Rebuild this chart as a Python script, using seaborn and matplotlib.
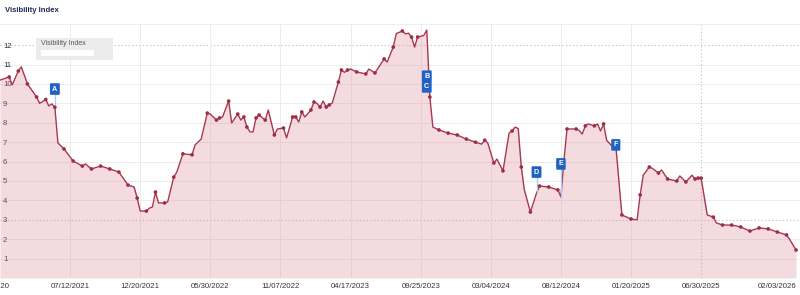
import matplotlib
matplotlib.use("Agg")
import matplotlib.pyplot as plt
import matplotlib.dates as mdates
from matplotlib.patches import Rectangle
from matplotlib.lines import Line2D
import seaborn as sns
import pandas as pd

# ---------------- data ----------------
dates = [
    "2021-02-01", "2021-02-22", "2021-03-01", "2021-03-15", "2021-03-22", "2021-04-05",
    "2021-04-26", "2021-05-03", "2021-05-17", "2021-05-24", "2021-05-31", "2021-06-07",
    "2021-06-14", "2021-06-28", "2021-07-19", "2021-08-09", "2021-08-16", "2021-08-30",
    "2021-09-20", "2021-09-27", "2021-10-11", "2021-11-01", "2021-11-22", "2021-12-06",
    "2021-12-13", "2021-12-20", "2022-01-03", "2022-01-10", "2022-01-17", "2022-01-24",
    "2022-01-31", "2022-02-14", "2022-02-21", "2022-03-07", "2022-03-14", "2022-03-28",
    "2022-04-18", "2022-04-25", "2022-05-09", "2022-05-23", "2022-05-30", "2022-06-13",
    "2022-06-20", "2022-06-27", "2022-07-11", "2022-07-18", "2022-08-01", "2022-08-08",
    "2022-08-15", "2022-08-22", "2022-08-29", "2022-09-05", "2022-09-12", "2022-09-19",
    "2022-10-03", "2022-10-10", "2022-10-24", "2022-10-31", "2022-11-14", "2022-11-21",
    "2022-12-05", "2022-12-12", "2022-12-19", "2022-12-26", "2023-01-02", "2023-01-16",
    "2023-01-23", "2023-01-30", "2023-02-06", "2023-02-13", "2023-02-20", "2023-02-27",
    "2023-03-06", "2023-03-20", "2023-03-27", "2023-04-03", "2023-04-10", "2023-04-17",
    "2023-05-01", "2023-05-22", "2023-05-29", "2023-06-12", "2023-07-03", "2023-07-10",
    "2023-07-24", "2023-07-31", "2023-08-14", "2023-08-21", "2023-08-28", "2023-09-04",
    "2023-09-11", "2023-09-18", "2023-10-02", "2023-10-09", "2023-10-16", "2023-10-23",
    "2023-11-06", "2023-11-27", "2023-12-11", "2023-12-18", "2024-01-08", "2024-01-29",
    "2024-02-12", "2024-02-19", "2024-02-26", "2024-03-11", "2024-03-18", "2024-04-01",
    "2024-04-15", "2024-04-22", "2024-04-29", "2024-05-06", "2024-05-13", "2024-05-20",
    "2024-06-03", "2024-06-17", "2024-06-24", "2024-07-15", "2024-08-05", "2024-08-12",
    "2024-08-19", "2024-08-26", "2024-09-16", "2024-09-23", "2024-09-30", "2024-10-07",
    "2024-10-14", "2024-10-28", "2024-11-04", "2024-11-11", "2024-11-18", "2024-11-25",
    "2024-12-09", "2024-12-16", "2024-12-23", "2024-12-30", "2025-01-20", "2025-02-03",
    "2025-02-10", "2025-02-17", "2025-03-03", "2025-03-10", "2025-03-24", "2025-03-31",
    "2025-04-14", "2025-05-05", "2025-05-12", "2025-05-26", "2025-06-09", "2025-06-16",
    "2025-06-23", "2025-06-30", "2025-07-14", "2025-07-28", "2025-08-04", "2025-08-18",
    "2025-09-08", "2025-09-29", "2025-10-20", "2025-11-10", "2025-12-01", "2025-12-22",
    "2026-01-12", "2026-01-19", "2026-02-03",
]
visibility = [
    10.2, 10.36, 9.95, 10.67, 10.88, 10.0,
    9.33, 9.0, 9.2, 8.87, 8.97, 8.8,
    6.96, 6.65, 6.03, 5.77, 5.88, 5.62,
    5.77, 5.72, 5.62, 5.46, 4.79, 4.69,
    4.12, 3.45, 3.45, 3.6, 3.66, 4.43,
    3.87, 3.87, 3.92, 5.2, 5.46, 6.4,
    6.35, 6.86, 7.16, 8.5, 8.45, 8.14,
    8.25, 8.3, 9.12, 7.99, 8.45, 8.14,
    8.3, 7.78, 7.53, 7.53, 8.25, 8.4,
    8.14, 8.66, 7.37, 7.68, 7.73, 7.22,
    8.3, 8.3, 8.04, 8.56, 8.3, 8.66,
    9.07, 9.0, 8.81, 9.12, 8.81, 8.92,
    9.02, 10.1, 10.72, 10.6, 10.72, 10.77,
    10.62, 10.52, 10.77, 10.57, 11.29, 11.13,
    11.9, 12.6, 12.73, 12.58, 12.62, 12.42,
    11.9, 12.42, 12.5, 12.78, 9.33, 7.78,
    7.63, 7.47, 7.4, 7.37, 7.16, 7.0,
    6.9, 7.1, 6.96, 5.93, 6.13, 5.52,
    7.47, 7.58, 7.78, 7.7, 5.72, 4.54,
    3.4, 4.38, 4.74, 4.69, 4.54, 4.18,
    6.08, 7.68, 7.68, 7.6, 7.42, 7.84,
    7.94, 7.84, 7.94, 7.58, 7.94, 7.1,
    6.75, 6.85, 5.05, 3.25, 3.04, 3.0,
    4.28, 5.3, 5.72, 5.65, 5.41, 5.57,
    5.1, 5.0, 5.26, 4.95, 5.3, 5.1,
    5.15, 5.15, 3.25, 3.14, 2.84, 2.73,
    2.73, 2.63, 2.42, 2.58, 2.53, 2.37,
    2.22, 2.0, 1.44,
]
has_dot = [
    0, 1, 0, 1, 0, 1,
    1, 0, 1, 0, 0, 1,
    0, 1, 1, 1, 0, 1,
    1, 0, 1, 1, 1, 0,
    1, 0, 1, 0, 0, 1,
    0, 1, 0, 1, 0, 1,
    1, 0, 0, 1, 0, 1,
    1, 0, 1, 0, 1, 0,
    1, 1, 0, 0, 1, 1,
    1, 0, 1, 0, 1, 0,
    1, 1, 0, 1, 0, 1,
    1, 0, 1, 0, 1, 1,
    0, 1, 1, 0, 1, 0,
    1, 1, 0, 1, 1, 0,
    1, 0, 1, 0, 0, 1,
    0, 1, 0, 0, 1, 0,
    1, 1, 0, 1, 1, 1,
    0, 1, 0, 1, 0, 1,
    0, 1, 0, 0, 1, 0,
    1, 0, 1, 1, 1, 0,
    0, 1, 1, 0, 0, 1,
    0, 1, 0, 0, 1, 0,
    0, 0, 0, 1, 1, 0,
    1, 0, 1, 0, 1, 0,
    1, 1, 0, 1, 0, 1,
    1, 1, 0, 1, 0, 1,
    1, 1, 1, 1, 1, 1,
    1, 0, 1,
]

tick_dates = ["2021-07-12", "2021-12-20", "2022-05-30", "2022-11-07", "2023-04-17",
              "2023-09-25", "2024-03-04", "2024-08-12", "2025-01-20", "2025-06-30",
              "2026-02-03"]
first_tick_label = "12/28/2020"
y_ticks = [1, 2, 3, 4, 5, 6, 7, 8, 9, 10, 11, 12]

event_labels = ["A", "B", "C", "D", "E", "F"]
event_dates = ["2021-06-07", "2023-10-09", "2023-10-09", "2024-06-17", "2024-08-12", "2024-12-16"]
event_levels = [9.74, 10.4, 9.85, 5.46, 5.88, 6.86]

# ---------------- style ----------------
sns.set_theme(style="white")
plt.rcParams["font.family"] = ["Liberation Sans", "DejaVu Sans"]

LINE = "#a8384f"
DOT = "#9e2e47"
FILL = "#d98a9b"
BLUE = "#1e63c4"

df = pd.DataFrame({"date": pd.to_datetime(dates), "value": visibility, "dot": has_dot})

fig = plt.figure(figsize=(8, 2.95), dpi=100)
ax = fig.add_axes([0.0, 17 / 295, 1.0, 253 / 295])

# grid
for y in y_ticks:
    if y in (3, 12):
        ax.axhline(y, color="#c4c4c4", lw=0.8, ls=(0, (1.2, 2.0)), zorder=0.5)
    else:
        ax.axhline(y, color="#ececec", lw=0.7, zorder=0.5)
for d in tick_dates[:-1]:
    if d == "2025-06-30":
        ax.axvline(pd.Timestamp(d), color="#c8c8c8", lw=0.8, ls=(0, (1.2, 2.0)), zorder=0.5)
    else:
        ax.axvline(pd.Timestamp(d), color="#ececec", lw=0.7, zorder=0.5)

ax.fill_between(df["date"], df["value"], 0, color=FILL, alpha=0.3, lw=0, zorder=1)
sns.lineplot(data=df, x="date", y="value", ax=ax, color=LINE, lw=1.0, zorder=3)
sns.scatterplot(data=df[df["dot"] == 1], x="date", y="value", ax=ax, color=DOT,
                s=7, edgecolor="none", linewidth=0, zorder=4)

# event markers
lookup = dict(zip(df["date"], df["value"]))
for lab, d, lvl in zip(event_labels, event_dates, event_levels):
    t = pd.Timestamp(d)
    base = lookup.get(t)
    if base is not None and base < lvl:
        ax.plot([t, t], [base, lvl], color="#a9c9ee", lw=0.9, zorder=3.5)
    ax.text(t, lvl, lab, ha="center", va="center", color="white", fontsize=5.2,
            fontweight="bold", zorder=6,
            bbox=dict(boxstyle="round,pad=0.32,rounding_size=0.15", fc=BLUE, ec="none"))

ax.set_xlim(pd.Timestamp("2021-02-01"), pd.Timestamp("2026-02-12"))
ax.set_ylim(0, 13.04)

ax.set_xticks(pd.to_datetime(tick_dates))
ax.xaxis.set_major_formatter(mdates.DateFormatter("%m/%d/%Y"))
ax.set_yticks(y_ticks)
ax.set_yticklabels([str(v) for v in y_ticks])
ax.tick_params(axis="x", length=0, pad=3.5, labelsize=5.6, labelcolor="#333333")
ax.tick_params(axis="y", length=0, pad=-2.2, labelsize=5.6, labelcolor="#333333")
for lbl in ax.get_yticklabels():
    lbl.set_ha("left")
xl = ax.get_xticklabels()
xl[-1].set_ha("right")
ax.set_xlabel("")
ax.set_ylabel("")
for s in ax.spines.values():
    s.set_visible(False)

# partially visible first date label on the left edge
ax.annotate(first_tick_label, xy=(pd.Timestamp("2021-01-08"), 0),
            xycoords=("data", "axes fraction"), xytext=(0, -3.5), textcoords="offset points",
            ha="center", va="top", fontsize=5.6, color="#333333", annotation_clip=False)

# legend box
ax.add_patch(Rectangle((0.045, 0.862), 0.096, 0.087, transform=ax.transAxes,
                       fc="#ececec", ec="none", zorder=5))
ax.text(0.051, 0.925, "Visibility Index", transform=ax.transAxes, fontsize=5.0,
        color="#555555", va="center", ha="left", zorder=6)
ax.add_patch(Rectangle((0.051, 0.877), 0.066, 0.024, transform=ax.transAxes,
                       fc="white", ec="none", zorder=6))

# title + separator
fig.text(0.006, 0.963, "Visibility Index", fontsize=5.6, fontweight="bold",
         color="#1f2d55", ha="left", va="center")
fig.add_artist(Line2D([0, 1], [0.918, 0.918], transform=fig.transFigure,
                      color="#eeeeee", lw=0.8))

fig.savefig("out.png", dpi=100)
